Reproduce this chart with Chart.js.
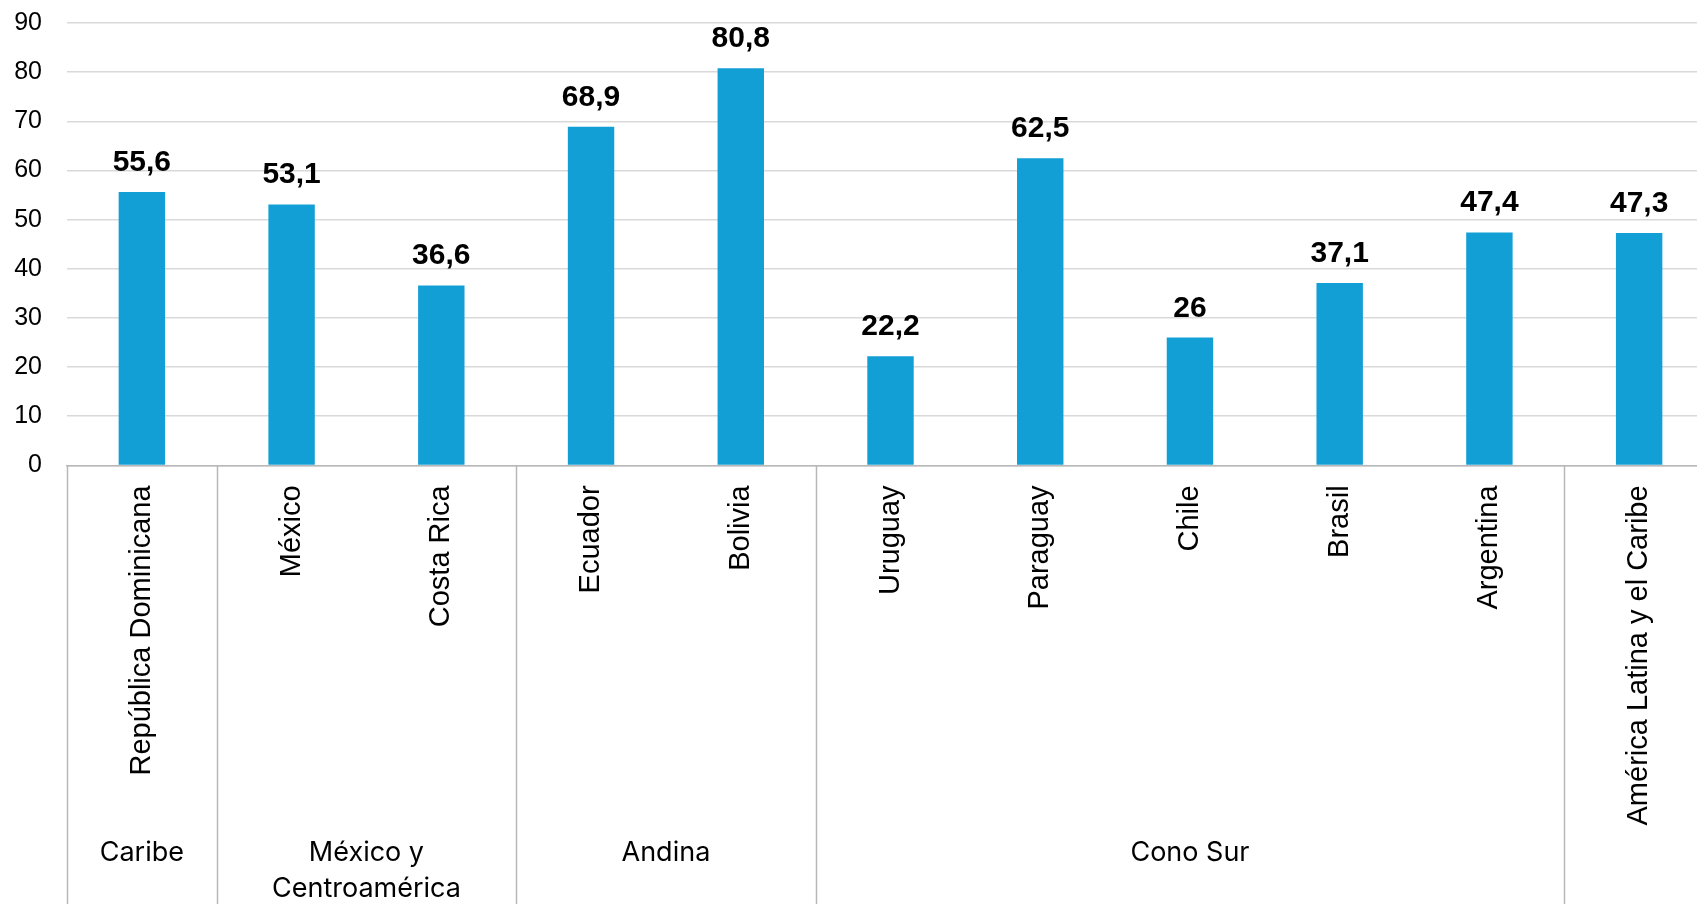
<!DOCTYPE html>
<html>
<head>
<meta charset="utf-8">
<script src="https://cdn.jsdelivr.net/npm/chart.js@4/dist/chart.umd.min.js"></script>
<style>
  html, body { margin: 0; padding: 0; background: #fff; overflow: hidden; }
  #wrap { width: 1697px; height: 904px; overflow: hidden; }
  canvas { display: block; }
</style>
</head>
<body>
<div id="wrap"><canvas id="chart" width="1714" height="904"></canvas></div>
<script>
const countries = [
  "República Dominicana", "México", "Costa Rica", "Ecuador", "Bolivia",
  "Uruguay", "Paraguay", "Chile", "Brasil", "Argentina", "América Latina y el Caribe",
];
const values = [55.6, 53.1, 36.6, 68.9, 80.8, 22.2, 62.5, 26, 37.1, 47.4, 47.3];
const groupNames = [["Caribe"], ["México y", "Centroamérica"], ["Andina"], ["Cono Sur"], [""]];
const groupSizes = [1, 2, 2, 5, 1];
const yTicks = [0, 10, 20, 30, 40, 50, 60, 70, 80, 90];

const fmt = (v) => String(v).replace(".", ",");

// value labels above each bar
const barLabels = {
  id: "barLabels",
  afterDatasetsDraw(chart) {
    const ctx = chart.ctx;
    const meta = chart.getDatasetMeta(0);
    ctx.save();
    ctx.font = "bold 30px 'Liberation Sans', Arial, sans-serif";
    ctx.fillStyle = "#000";
    ctx.textAlign = "center";
    ctx.textBaseline = "alphabetic";
    meta.data.forEach((bar, i) => {
      ctx.fillText(fmt(values[i]), bar.x, bar.y - 21);
    });
    ctx.restore();
  },
};

// group separators and group names under the category labels
const groupAxis = {
  id: "groupAxis",
  afterDraw(chart) {
    const ctx = chart.ctx;
    const x = chart.scales.x;
    const half = (x.getPixelForValue(1) - x.getPixelForValue(0)) / 2;
    const top = chart.chartArea.bottom;
    const bottom = chart.height;
    ctx.save();
    ctx.strokeStyle = "#b8b8b8";
    ctx.lineWidth = 1.5;
    let idx = 0;
    const edges = [0];
    groupSizes.forEach((n) => { idx += n; edges.push(idx); });
    edges.forEach((e) => {
      const px = Math.round(x.getPixelForValue(e) - half) + 0.5;
      ctx.beginPath();
      ctx.moveTo(px, top);
      ctx.lineTo(px, bottom);
      ctx.stroke();
    });
    ctx.font = "27px Inter, 'Noto Sans', sans-serif";
    ctx.fillStyle = "#000";
    ctx.textAlign = "center";
    ctx.textBaseline = "middle";
    groupNames.forEach((lines, g) => {
      const a = edges[g], b = edges[g + 1];
      const cx = (x.getPixelForValue(a) + x.getPixelForValue(b - 1)) / 2;
      lines.forEach((line, k) => {
        ctx.fillText(line, cx, 853 + k * 36);
      });
    });
    ctx.restore();
  },
};

new Chart(document.getElementById("chart"), {
  type: "bar",
  data: {
    labels: countries,
    datasets: [
      {
        data: values,
        backgroundColor: "#129fd6",
        borderWidth: 0,
        categoryPercentage: 1,
        barPercentage: 0.31,
      },
    ],
  },
  options: {
    responsive: false,
    animation: false,
    devicePixelRatio: 1,
    layout: { padding: { top: 23, right: 0, left: 0, bottom: 0 } },
    plugins: {
      legend: { display: false },
      tooltip: { enabled: false },
    },
    scales: {
      x: {
        grid: { display: false },
        border: { display: true, color: "#b8b8b8", width: 1.5 },
        ticks: {
          minRotation: 90,
          maxRotation: 90,
          autoSkip: false,
          padding: 12,
          color: "#000",
          font: { family: "'Liberation Sans', Arial, sans-serif", size: 29 },
        },
        afterFit: (s) => { s.height = 904 - 465.4; },
      },
      y: {
        min: 0,
        max: 90,
        afterBuildTicks: (s) => { s.ticks = yTicks.map((v) => ({ value: v })); },
        grid: { color: "#d9d9d9", lineWidth: 1.5, drawTicks: true, tickLength: 25, tickColor: "rgba(0,0,0,0)" },
        border: { display: false },
        ticks: {
          padding: 0,
          color: "#000",
          font: { family: "'Liberation Sans', Arial, sans-serif", size: 25 },
        },
        afterFit: (s) => { s.width = 67; },
      },
    },
  },
  plugins: [barLabels, groupAxis],
});
</script>
</body>
</html>
